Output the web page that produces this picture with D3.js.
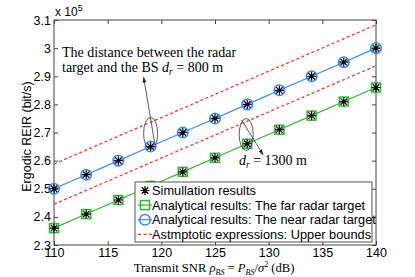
<!DOCTYPE html>
<html>
<head>
<meta charset="utf-8">
<script src="https://cdn.jsdelivr.net/npm/d3@7"></script>
<style>
  body { margin: 0; background: #fff; }
  .tick text { font-family: "Liberation Sans", Arial, sans-serif; font-size: 12.5px; fill: #000; }
  .serif { font-family: "Liberation Serif", "Times New Roman", serif; }
  .sans { font-family: "Liberation Sans", Arial, sans-serif; }
</style>
</head>
<body>
<div id="chart"></div>
<script>
/** Transmit SNR (dB) where the markers sit */
var snrDb = [110, 113, 116, 119, 122, 125, 128, 131, 134, 137, 140];
/** Ergodic REIR, units of 1e5 bit/s */
var nearTarget = [2.50, 2.55, 2.60, 2.65, 2.70, 2.75, 2.80, 2.85, 2.90, 2.95, 3.00];
var farTarget = [2.36, 2.41, 2.46, 2.51, 2.56, 2.61, 2.66, 2.71, 2.76, 2.81, 2.86];
/** Asymptotic upper bounds (straight lines) */
var boundSnr = [110, 140];
var nearBound = [2.588, 3.083];
var farBound = [2.445, 2.937];
/** Axis ticks */
var xTicks = [110, 115, 120, 125, 130, 135, 140];
var yTicks = [2.3, 2.4, 2.5, 2.6, 2.7, 2.8, 2.9, 3.0, 3.1];

var legendLabels = [
  "Simullation results",
  "Analytical results: The far radar target",
  "Analytical results: The near radar target",
  "Astmptotic expressions: Upper bounds"
];

var width = 415, height = 277;
var margin = {top: 20, right: 39, bottom: 32, left: 54};
var blue = "#3b87f5", green = "#36b336", red = "#ff3333";

var svg = d3.select("#chart").append("svg")
  .attr("width", width)
  .attr("height", height);

var x = d3.scaleLinear().domain([110, 140]).range([margin.left, width - margin.right]);
var y = d3.scaleLinear().domain([2.3, 3.1]).range([height - margin.bottom, margin.top]);

/** Axes, MATLAB style: ticks inside on all four sides */
var tickLen = 4;
svg.append("g")
  .attr("transform", "translate(0," + y(2.3) + ")")
  .call(d3.axisBottom(x).tickValues(xTicks).tickSize(-tickLen).tickPadding(3).tickFormat(d3.format("d")))
  .call(function(g) { g.selectAll("line").attr("stroke", "#444"); g.select(".domain").remove(); });
svg.append("g")
  .attr("transform", "translate(0," + y(3.1) + ")")
  .call(d3.axisTop(x).tickValues(xTicks).tickSize(-tickLen).tickFormat(""))
  .call(function(g) { g.selectAll("line").attr("stroke", "#444"); g.select(".domain").remove(); });
svg.append("g")
  .attr("transform", "translate(" + x(110) + ",0)")
  .call(d3.axisLeft(y).tickValues(yTicks).tickSize(-tickLen).tickPadding(3).tickFormat(function(d) { return d == 3 ? "3" : d3.format(".1f")(d); }))
  .call(function(g) { g.selectAll("line").attr("stroke", "#444"); g.select(".domain").remove(); });
svg.append("g")
  .attr("transform", "translate(" + x(140) + ",0)")
  .call(d3.axisRight(y).tickValues(yTicks).tickSize(-tickLen).tickFormat(""))
  .call(function(g) { g.selectAll("line").attr("stroke", "#444"); g.select(".domain").remove(); });

svg.append("rect")
  .attr("x", x(110)).attr("y", y(3.1))
  .attr("width", x(140) - x(110)).attr("height", y(2.3) - y(3.1))
  .attr("fill", "none").attr("stroke", "#444").attr("stroke-width", 1);

/** Exponent label */
var expo = svg.append("text").attr("class", "sans")
  .attr("x", x(110) + 1).attr("y", y(3.1) - 4)
  .attr("font-size", 12);
expo.append("tspan").text("x 10");
expo.append("tspan").attr("dy", -5).attr("font-size", 9).text("5");

/** Axis labels */
svg.append("text").attr("class", "sans")
  .attr("transform", "translate(31," + ((y(2.3) + y(3.1)) / 2 + 4) + ") rotate(-90)")
  .attr("text-anchor", "middle")
  .attr("font-size", 12.5)
  .text("Ergodic REIR (bit/s)");

var xl = svg.append("text").attr("class", "serif")
  .attr("x", 214).attr("y", 272)
  .attr("text-anchor", "middle")
  .attr("font-size", 12.6);
xl.append("tspan").text("Transmit SNR ");
xl.append("tspan").attr("font-style", "italic").text("ρ");
xl.append("tspan").attr("font-size", 8).attr("font-style", "italic").attr("dy", 3).text("BS");
xl.append("tspan").attr("dy", -3).text(" = ");
xl.append("tspan").attr("font-style", "italic").text("P");
xl.append("tspan").attr("font-size", 8).attr("font-style", "italic").attr("dy", 3).text("BS");
xl.append("tspan").attr("dy", -3).text("/");
xl.append("tspan").attr("font-style", "italic").text("σ");
xl.append("tspan").attr("font-size", 8).attr("dy", -5).text("2");
xl.append("tspan").attr("dy", 5).text(" (dB)");

/** Curves */
var line = d3.line()
  .x(function(d) { return x(d[0]); })
  .y(function(d) { return y(d[1]); });

function pairs(xs, ys) { return xs.map(function(v, i) { return [v, ys[i]]; }); }

svg.append("path").datum(pairs(boundSnr, nearBound))
  .attr("d", line).attr("fill", "none").attr("stroke", red)
  .attr("stroke-width", 1.3).attr("stroke-dasharray", "3,2.5");
svg.append("path").datum(pairs(boundSnr, farBound))
  .attr("d", line).attr("fill", "none").attr("stroke", red)
  .attr("stroke-width", 1.3).attr("stroke-dasharray", "3,2.5");
svg.append("path").datum(pairs(snrDb, nearTarget))
  .attr("d", line).attr("fill", "none").attr("stroke", blue).attr("stroke-width", 1.2);
svg.append("path").datum(pairs(snrDb, farTarget))
  .attr("d", line).attr("fill", "none").attr("stroke", green).attr("stroke-width", 1.2);

/** Marker helpers */
function asterisk(g, cx, cy, r) {
  var a = r * 0.72;
  g.append("path")
    .attr("d", "M" + (cx - r) + "," + cy + "H" + (cx + r) +
               "M" + cx + "," + (cy - r) + "V" + (cy + r) +
               "M" + (cx - a) + "," + (cy - a) + "L" + (cx + a) + "," + (cy + a) +
               "M" + (cx - a) + "," + (cy + a) + "L" + (cx + a) + "," + (cy - a))
    .attr("stroke", "#000").attr("stroke-width", 1.2).attr("fill", "none");
}
function circleMark(g, cx, cy) {
  g.append("circle").attr("cx", cx).attr("cy", cy).attr("r", 5.3)
    .attr("fill", "none").attr("stroke", blue).attr("stroke-width", 1.5);
}
function squareMark(g, cx, cy) {
  g.append("rect").attr("x", cx - 4.5).attr("y", cy - 4.5).attr("width", 9).attr("height", 9)
    .attr("fill", "none").attr("stroke", green).attr("stroke-width", 1.5);
}

var marks = svg.append("g");
snrDb.forEach(function(s, i) {
  circleMark(marks, x(s), y(nearTarget[i]));
  asterisk(marks, x(s), y(nearTarget[i]), 4.5);
  squareMark(marks, x(s), y(farTarget[i]));
  asterisk(marks, x(s), y(farTarget[i]), 4.5);
});

/** Annotations */
svg.append("defs").append("marker")
  .attr("id", "arrow").attr("viewBox", "0 0 10 10")
  .attr("refX", 10).attr("refY", 5)
  .attr("markerWidth", 7).attr("markerHeight", 7)
  .attr("orient", "auto")
  .append("path").attr("d", "M0,1.5L10,5L0,8.5Z").attr("fill", "#222");

var ann = svg.append("g").attr("stroke", "#333").attr("stroke-width", 0.8).attr("fill", "none");
ann.append("ellipse")
  .attr("cx", x(119)).attr("cy", (y(nearTarget[3]) + y(2.7365)) / 2 - 1)
  .attr("rx", 7).attr("ry", 16);
ann.append("line")
  .attr("x1", x(119) + 4).attr("y1", y(nearTarget[3]) - 4)
  .attr("x2", x(119) - 7).attr("y2", 77)
  .attr("marker-end", "url(#arrow)");
ann.append("ellipse")
  .attr("cx", x(128) - 1).attr("cy", (y(farTarget[6]) + y(2.74)) / 2 + 2)
  .attr("rx", 7).attr("ry", 16);
ann.append("line")
  .attr("x1", x(128) - 5.5).attr("y1", 120)
  .attr("x2", x(128) + 16).attr("y2", 155)
  .attr("marker-end", "url(#arrow)");

var t1 = svg.append("text").attr("class", "serif").attr("font-size", 14)
  .attr("x", 62).attr("y", 57).text("The distance between the radar");
var t2 = svg.append("text").attr("class", "serif").attr("font-size", 14)
  .attr("x", 62).attr("y", 72);
t2.append("tspan").text("target and the BS ");
t2.append("tspan").attr("font-style", "italic").text("d");
t2.append("tspan").attr("font-style", "italic").attr("font-size", 9.5).attr("dy", 3).text("r");
t2.append("tspan").attr("dy", -3).text(" = 800 m");

var t3 = svg.append("text").attr("class", "serif").attr("font-size", 14)
  .attr("x", 239).attr("y", 165);
t3.append("tspan").attr("font-style", "italic").text("d");
t3.append("tspan").attr("font-style", "italic").attr("font-size", 9.5).attr("dy", 3).text("r");
t3.append("tspan").attr("dy", -3).text(" = 1300 m");

/** Legend */
var lg = svg.append("g");
var lx = 135, ly = 182, lw = 237, lh = 60;
lg.append("rect").attr("x", lx).attr("y", ly).attr("width", lw).attr("height", lh)
  .attr("fill", "#fff").attr("stroke", "#555").attr("stroke-width", 1);
legendLabels.forEach(function(label, i) {
  var cy = ly + 8.5 + i * 14.6;
  var cx = lx + 10;
  if (i == 0) {
    asterisk(lg, cx, cy, 4.5);
  } else if (i == 1) {
    lg.append("line").attr("x1", cx - 7).attr("x2", cx + 7).attr("y1", cy).attr("y2", cy)
      .attr("stroke", green).attr("stroke-width", 1.2);
    squareMark(lg, cx, cy);
  } else if (i == 2) {
    lg.append("line").attr("x1", cx - 7).attr("x2", cx + 7).attr("y1", cy).attr("y2", cy)
      .attr("stroke", blue).attr("stroke-width", 1.2);
    circleMark(lg, cx, cy);
  } else {
    lg.append("line").attr("x1", cx - 7).attr("x2", cx + 7).attr("y1", cy).attr("y2", cy)
      .attr("stroke", red).attr("stroke-width", 1.3).attr("stroke-dasharray", "3,2.5");
  }
  lg.append("text").attr("class", "sans").attr("font-size", 12.8)
    .attr("x", lx + 17).attr("y", cy + 4.5).text(label);
});
</script>
</body>
</html>
